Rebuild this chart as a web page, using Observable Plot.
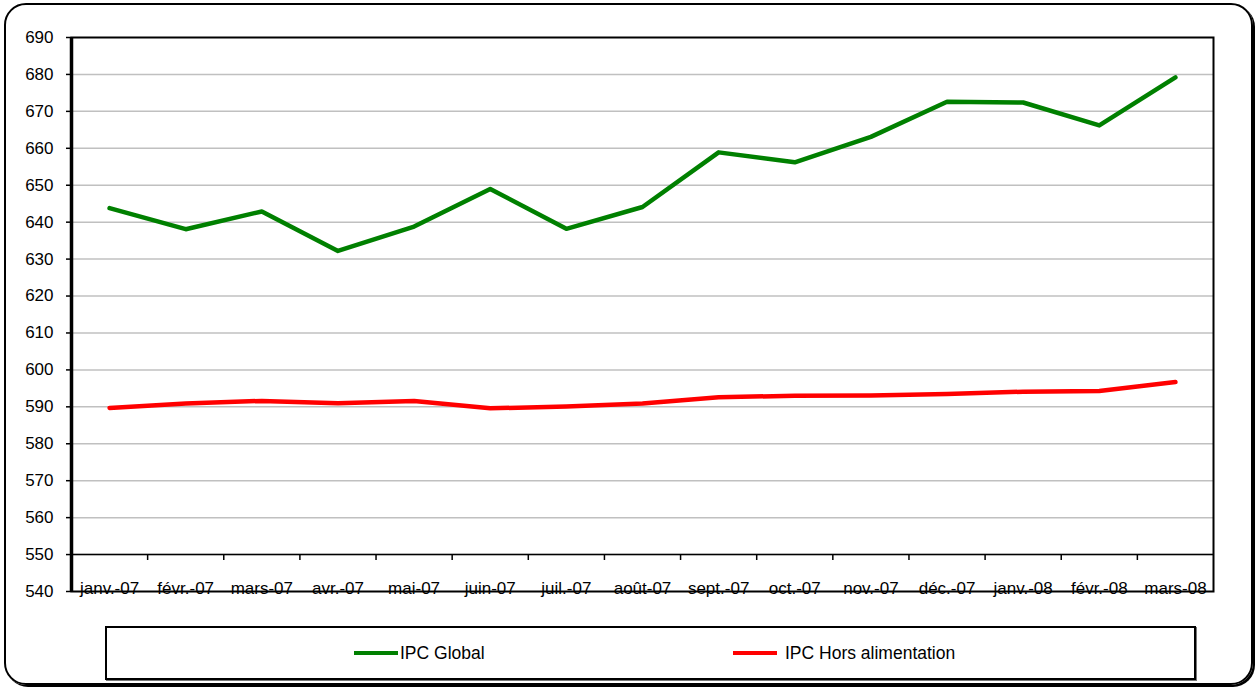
<!DOCTYPE html>
<html><head><meta charset="utf-8">
<script src="https://cdn.jsdelivr.net/npm/d3@7"></script>
<script src="https://cdn.jsdelivr.net/npm/@observablehq/plot@0.6"></script>
<style>
body{margin:0;background:#fff;font-family:"Liberation Sans",Arial,sans-serif;}
#wrap{position:relative;width:1258px;height:688px;overflow:hidden;background:#fff;}
#chart{position:absolute;left:0;top:0;}
#outer{position:absolute;left:4px;top:3px;width:1245px;height:678px;border:2px solid #000;border-radius:22px;box-shadow:2px 2px 0 #000;z-index:2;pointer-events:none;}
#legend{position:absolute;left:105px;top:626px;width:1087px;height:50px;border:2px solid #000;box-shadow:1px 1px 0 #777;}
.item{position:absolute;top:0;height:50px;display:flex;align-items:center;font-size:17.5px;color:#000;}
.sw{display:inline-block;width:44px;height:4px;margin-right:2px;}
</style></head>
<body>
<div id="wrap">
  <div id="chart"></div>
  <div id="legend"></div>
  <div id="outer"></div>
</div>
<script>
const months = ["janv.-07","févr.-07","mars-07","avr.-07","mai-07","juin-07","juil.-07","août-07","sept.-07","oct.-07","nov.-07","déc.-07","janv.-08","févr.-08","mars-08"];
const ipcGlobal = [643.8, 638.1, 642.9, 632.2, 638.8, 649.0, 638.2, 644.1, 658.9, 656.2, 663.1, 672.6, 672.4, 666.2, 679.2];
const ipcHorsAlim = [589.7, 590.9, 591.6, 591.0, 591.6, 589.6, 590.1, 590.9, 592.6, 593.0, 593.1, 593.5, 594.1, 594.3, 596.7];
const seriesNames = ["IPC Global", "IPC Hors alimentation"];
const seriesColors = ["#008000", "#ff0000"];
const yTicks = d3.range(540, 691, 10);

const bounds = months.slice(1).map((m, i) => i + 0.5);

const chart = Plot.plot({
  width: 1258, height: 600,
  marginLeft: 71, marginRight: 45, marginTop: 37, marginBottom: 9,
  x: {type: "linear", domain: [-0.5, months.length - 0.5], axis: null},
  y: {domain: [540, 690], axis: null},
  style: {fontFamily: '"Liberation Sans", Arial, sans-serif', fontSize: "17px", color: "#000", background: "transparent"},
  marks: [
    Plot.gridY(yTicks.slice(1, -1), {stroke: "#c0c0c0", strokeOpacity: 1, strokeWidth: 1.5}),
    Plot.ruleY([550], {stroke: "#000", strokeWidth: 1.5}),
    Plot.ruleX(bounds, {x: d => d, y1: 550, y2: 548.4, stroke: "#000", strokeWidth: 1.5}),
    Plot.axisY(yTicks, {tickSize: 5, tickPadding: 13, fontSize: 17, stroke: "#000", strokeWidth: 1.5}),
    Plot.text(months, {x: (d, i) => i, y: 540, text: d => d, lineAnchor: "bottom", dy: 2, fontSize: 17, fill: "#000"}),
    Plot.lineY(ipcGlobal, {x: (d, i) => i, y: d => d, stroke: seriesColors[0], strokeWidth: 4.5}),
    Plot.lineY(ipcHorsAlim, {x: (d, i) => i, y: d => d, stroke: seriesColors[1], strokeWidth: 4.5}),
    Plot.frame({stroke: "#000", strokeWidth: 2}),
    Plot.ruleX([-0.5], {stroke: "#000", strokeWidth: 3.5})
  ]
});
document.getElementById("chart").appendChild(chart);

const legend = document.getElementById("legend");
const itemLeft = [247, 626];
seriesNames.forEach((name, k) => {
  const it = document.createElement("div");
  it.className = "item";
  it.style.left = itemLeft[k] + "px";
  const sw = document.createElement("span");
  sw.className = "sw";
  sw.style.background = seriesColors[k];
  it.appendChild(sw);
  const t = document.createElement("span");
  t.textContent = name;
  if (k === 1) t.style.marginLeft = "6px";
  it.appendChild(t);
  legend.appendChild(it);
});
</script>
</body></html>
